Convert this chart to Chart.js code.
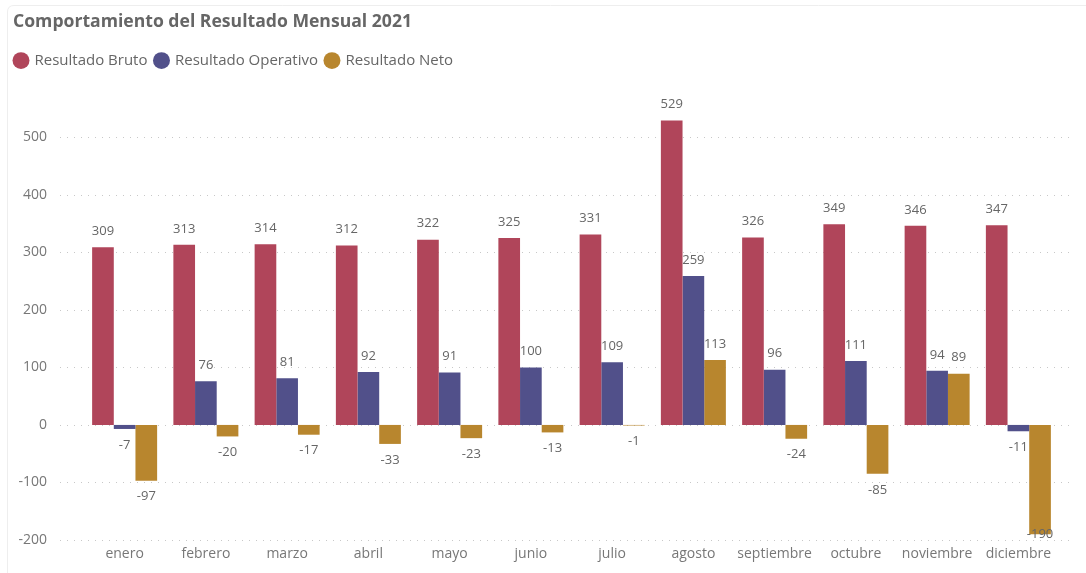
<!DOCTYPE html>
<html>
<head>
<meta charset="utf-8">
<script src="https://cdn.jsdelivr.net/npm/chart.js@4"></script>
<style>
  html, body { margin: 0; padding: 0; background: #fff; }
  #wrap { width: 1086px; height: 573px; position: relative; }
</style>
</head>
<body>
<div id="wrap"><canvas id="c" width="1086" height="573"></canvas></div>
<script>
const categories = ['enero','febrero','marzo','abril','mayo','junio','julio','agosto','septiembre','octubre','noviembre','diciembre'];
const resultadoBruto = [309,313,314,312,322,325,331,529,326,349,346,347];
const resultadoOperativo = [-7,76,81,92,91,100,109,259,96,111,94,-11];
const resultadoNeto = [-97,-20,-17,-33,-23,-13,-1,113,-24,-85,89,-190];
const yTicks = [-200,-100,0,100,200,300,400,500];
const seriesNames = ['Resultado Bruto','Resultado Operativo','Resultado Neto'];
const titleText = 'Comportamiento del Resultado Mensual 2021';

const FONT = '"Open Sans", "Noto Sans", sans-serif';
const colors = ['#B0455A', '#51508A', '#B8862E'];

const gridPlugin = {
  id: 'dotGrid',
  beforeUpdate(chart) {
    const lg = chart.legend;
    if (lg && !lg._patched) {
      lg._patched = true;
      const fit = lg.fit.bind(lg);
      lg.fit = function () { fit(); this.height += 16; };
      const draw = lg.draw.bind(lg);
      lg.draw = function () { const c = this.ctx; c.save(); c.translate(-6, 0); draw(); c.restore(); };
    }
  },
  beforeDatasetsDraw(chart) {
    const ctx = chart.ctx, y = chart.scales.y;
    ctx.save();
    ctx.strokeStyle = '#c8c8c8';
    ctx.lineWidth = 1;
    ctx.setLineDash([1, 6]);
    yTicks.forEach(v => {
      const py = Math.round(y.getPixelForValue(v)) + 0.5;
      ctx.beginPath();
      ctx.moveTo(60, py);
      ctx.lineTo(1075, py);
      ctx.stroke();
    });
    ctx.restore();
  },
  beforeDraw(chart) {
    const ctx = chart.ctx;
    ctx.save();
    ctx.strokeStyle = '#eeeeee';
    ctx.lineWidth = 1;
    ctx.beginPath();
    ctx.moveTo(7.5, 580);
    ctx.lineTo(7.5, 12);
    ctx.quadraticCurveTo(7.5, 5.5, 14, 5.5);
    ctx.lineTo(1090, 5.5);
    ctx.stroke();
    ctx.restore();
  }
};

const labelPlugin = {
  id: 'valueLabels',
  afterDatasetsDraw(chart) {
    const ctx = chart.ctx;
    const area = chart.chartArea;
    ctx.save();
    ctx.fillStyle = '#666';
    ctx.font = '13px ' + FONT;
    ctx.textAlign = 'center';
    ctx.textBaseline = 'middle';
    chart.data.datasets.forEach((ds, i) => {
      const meta = chart.getDatasetMeta(i);
      meta.data.forEach((el, j) => {
        const v = ds.data[j];
        let py = v >= 0 ? el.y - 16 : el.y + 16;
        py = Math.min(py, area.bottom - 6);
        ctx.fillText(String(v), el.x, py);
      });
    });
    ctx.restore();
  }
};

new Chart(document.getElementById('c'), {
  type: 'bar',
  data: {
    labels: categories,
    datasets: [
      { label: seriesNames[0], data: resultadoBruto, backgroundColor: colors[0] },
      { label: seriesNames[1], data: resultadoOperativo, backgroundColor: colors[1] },
      { label: seriesNames[2], data: resultadoNeto, backgroundColor: colors[2] }
    ]
  },
  options: {
    responsive: false,
    maintainAspectRatio: false,
    animation: false,
    datasets: { bar: { barPercentage: 1.0, categoryPercentage: 0.8 } },
    layout: { autoPadding: false, padding: { left: 13, right: 27, top: 0, bottom: 0 } },
    plugins: {
      title: {
        display: true, text: titleText, align: 'start', color: '#666',
        font: { family: FONT, size: 17.6, weight: 'bold' },
        padding: { top: 11, bottom: 13 }
      },
      legend: {
        display: true, align: 'start',
        labels: {
          usePointStyle: true, pointStyle: 'circle', boxWidth: 12, boxHeight: 12,
          color: '#666', font: { family: FONT, size: 15 }, padding: 8
        }
      },
      tooltip: { enabled: false }
    },
    scales: {
      x: {
        grid: { display: false, drawTicks: false }, border: { display: false },
        ticks: { color: '#777', font: { family: FONT, size: 14 }, padding: 6, maxRotation: 0 },
        afterFit(scale) { scale.height = 33; scale.paddingLeft = 0; scale.paddingRight = 0; }
      },
      y: {
        min: -200, max: 575,
        grid: { display: false, drawTicks: false }, border: { display: false },
        ticks: { color: '#777', font: { family: FONT, size: 14 }, padding: 37 },
        afterBuildTicks(scale) { scale.ticks = yTicks.map(v => ({ value: v })); },
        afterFit(scale) { scale.width = 71; scale.paddingTop = 0; scale.paddingBottom = 0; }
      }
    }
  },
  plugins: [gridPlugin, labelPlugin]
});
</script>
</body>
</html>
